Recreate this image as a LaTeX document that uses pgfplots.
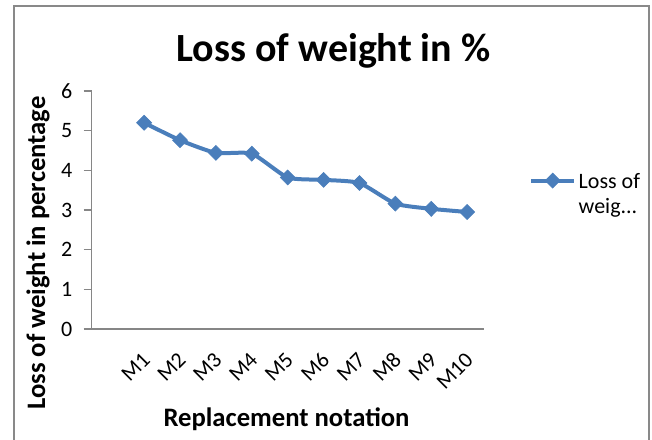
\documentclass[border=0pt]{standalone}
\usepackage{fontspec}
\setmainfont{Carlito}
\usepackage{pgfplots}
\pgfplotsset{compat=1.18}
\definecolor{ser}{HTML}{4A7EBB}
\definecolor{axgray}{HTML}{868686}
\definecolor{framegray}{HTML}{898989}

\begin{document}
\begin{tikzpicture}
\begin{scope}[x=0.75pt,y=-0.75pt,yshift=329.25pt]
  \useasboundingbox (0,0) rectangle (652,439);
  \draw[framegray, line width=1.5pt] (14,470) -- (14,6) -- (649,6) -- (649,470);
  \node[font=\bfseries\fontsize{30}{35}\selectfont, anchor=base] at (333.5,62) {Loss of weight in \%};
  \node[font=\bfseries\fontsize{20}{24}\selectfont, anchor=base] at (286.5,426) {Replacement notation};
  \node[font=\bfseries\fontsize{20}{24}\selectfont, anchor=base, rotate=90] at (45,253) {Loss of weight in percentage};
\end{scope}
\begin{axis}[
    at={(68.8pt,82.5pt)}, anchor=south west,
    scale only axis, width=294.2pt, height=178.5pt,
    xmin=-0.46, xmax=10.47, ymin=0, ymax=6,
    axis x line=bottom, axis y line=left,
    axis line style={axgray, line width=1pt, -},
    xtick={1,...,10},
    xticklabels={M1,M2,M3,M4,M5,M6,M7,M8,M9,M10},
    ytick={0,...,6},
    tick align=outside, major tick length=6pt,
    tick style={axgray, line width=1pt},
    x tick style={draw=none},
    /pgf/number format/assume math mode=true,
    ticklabel style={font=\fontsize{16.5}{19}\selectfont},
    xticklabel style={xshift=4pt, yshift=-12pt, rotate=45, anchor=east},
    yticklabel style={xshift=-5pt},
    legend style={at={(rel axis cs:1.115,0.677)}, anchor=north west,
        draw=none, fill=none, inner sep=0pt,
        font=\fontsize{16.5}{18.75}\selectfont},
    legend image code/.code={\draw[mark repeat=2,mark phase=2,#1]
        plot coordinates {(0pt,0pt) (16pt,0pt) (32pt,0pt)};},
]
\addplot[ser, line width=3pt, smooth, tension=0.35,
    mark=diamond*, mark size=5.6pt,
    mark options={xscale=1.33, line width=0.5pt}]
coordinates {
    (1,5.20) (2,4.76) (3,4.44) (4,4.42) (5,3.82)
    (6,3.76) (7,3.68) (8,3.16) (9,3.03) (10,2.95)
};
\addlegendentry{\begin{tabular}[t]{@{}l@{}}Loss of\\weig...\end{tabular}}
\end{axis}
\end{tikzpicture}
\end{document}
